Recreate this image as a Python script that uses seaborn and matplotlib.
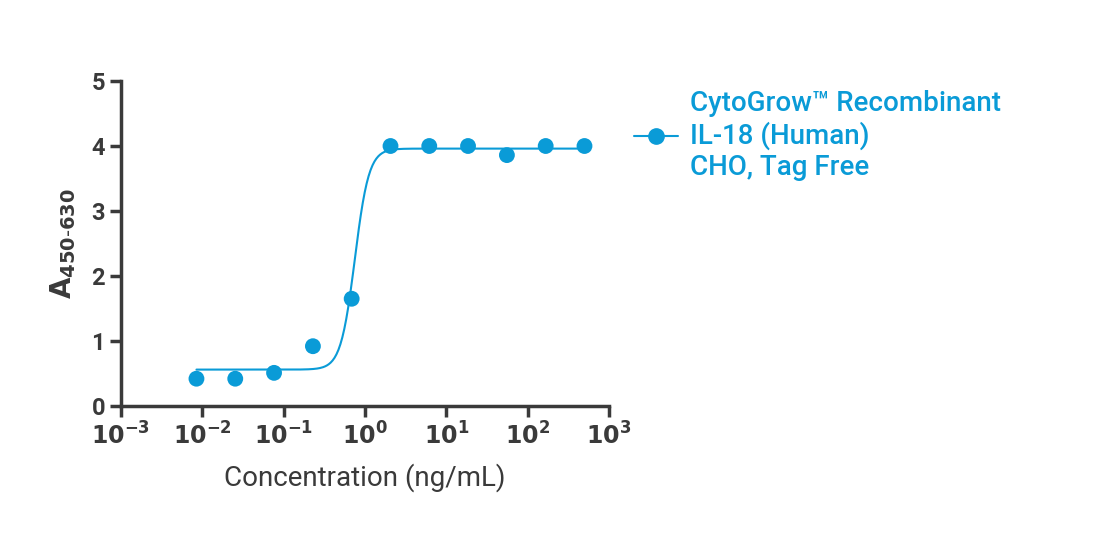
import numpy as np
import pandas as pd
import matplotlib
matplotlib.use("Agg")
import matplotlib.pyplot as plt
import seaborn as sns

# datos
conc = [0.00847, 0.0254, 0.0762, 0.229, 0.686, 2.06, 6.17, 18.5, 55.6, 166.7, 500.0]
absorb = [0.42, 0.42, 0.51, 0.92, 1.65, 4.0, 4.0, 4.0, 3.86, 4.0, 4.0]

# parametros del ajuste 4PL
bottom, top, ec50, hill = 0.56, 3.96, 0.75, 5.0

color = "#0A9BD7"
dark = "#3a3a3a"

sns.set_style("ticks")
plt.rcParams['font.family'] = ['Roboto', 'DejaVu Sans']

fig = plt.figure(figsize=(11.04, 5.34), dpi=100)
ax = fig.add_axes([0.1096, 0.2397, 0.442, 0.6086])

df = pd.DataFrame({"conc": conc, "A": absorb})
xs = np.logspace(np.log10(conc[0]), np.log10(conc[-1]), 400)
fit = pd.DataFrame({"conc": xs, "A": bottom + (top - bottom) / (1 + (ec50 / xs) ** hill)})

sns.lineplot(data=fit, x="conc", y="A", color=color, lw=1.5, ax=ax)
sns.scatterplot(data=df, x="conc", y="A", color=color, s=130, edgecolor="none", ax=ax, zorder=3)

ax.set_xscale("log")
ax.set_xlim(1e-3, 1e3)
ax.set_ylim(0, 5)
ax.set_xticks([10.0 ** k for k in range(-3, 4)])
ax.set_xticklabels([f"$\\mathbf{{10^{{{k}}}}}$" for k in range(-3, 4)])
ax.minorticks_off()
ax.set_yticks(range(6))
for s in ["top", "right"]:
    ax.spines[s].set_visible(False)
for s in ["left", "bottom"]:
    ax.spines[s].set_linewidth(2.5)
    ax.spines[s].set_color(dark)
ax.tick_params(width=2.5, length=8, color=dark, labelcolor=dark, labelsize=17)
for t in ax.get_yticklabels():
    t.set_fontweight("bold")
plt.rcParams['mathtext.fontset'] = 'custom'
plt.rcParams['mathtext.bf'] = 'Roboto:bold'

ax.set_xlabel("Concentration (ng/mL)", fontsize=20, color=dark, labelpad=10)
ax.set_ylabel("$\\mathbf{A_{450\\text{-}630}}$", fontsize=20, color=dark, labelpad=10)

ax.plot([], [], "-o", color=color, ms=11, lw=1.5,
        label="CytoGrow™ Recombinant\nIL-18 (Human)\nCHO, Tag Free")
leg = ax.legend(loc="upper left", bbox_to_anchor=(1.0, 1.05), frameon=False,
                fontsize=20, handlelength=1.6, handletextpad=0.4)
for t in leg.get_texts():
    t.set_color(color)
    t.set_fontweight("medium")

fig.savefig("out.png", dpi=100)
